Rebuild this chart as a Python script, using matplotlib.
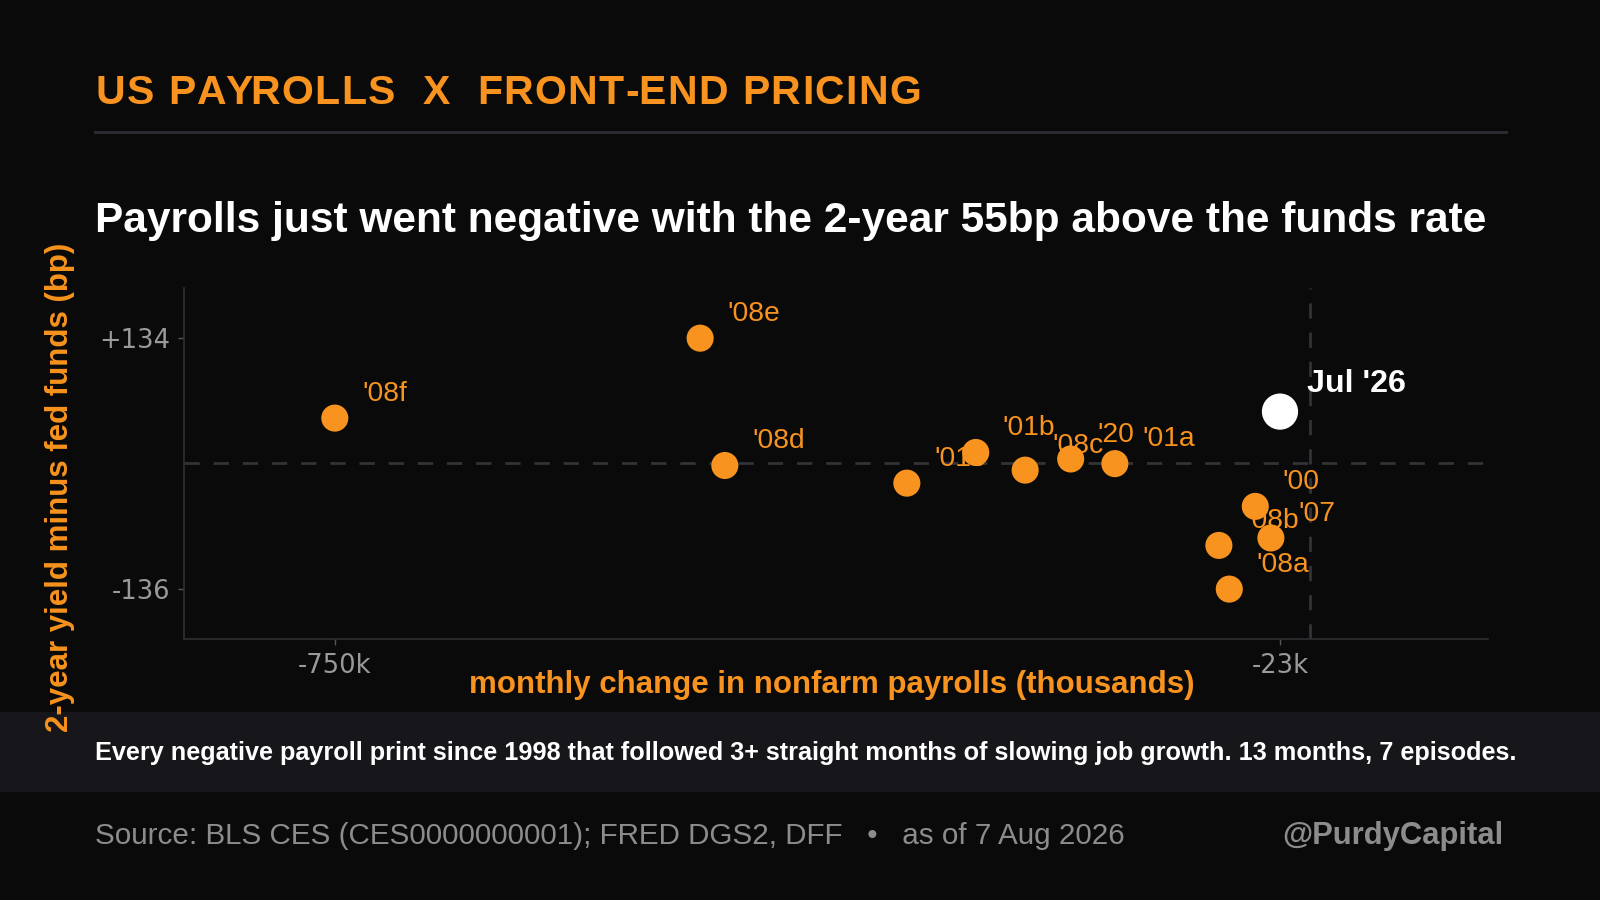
import matplotlib
matplotlib.use("Agg")
import matplotlib.pyplot as plt
from matplotlib.patches import Rectangle

BG = "#0a0a0a"
BAND = "#16161b"
ORANGE = "#F7931E"
GRID = "#333338"
TICK_GRAY = "#9a9a9a"
FOOT_GRAY = "#8c8c8c"

# historical negative prints (label, payroll change k, 2y - funds bp)
labels = ["'08f", "'08e", "'08d", "'01c", "'01b", "'08c", "'20", "'01a",
          "'00", "'07", "'08b", "'08a"]
payrolls = [-750, -469, -450, -310, -257, -219, -184, -150, -42, -30, -70, -62]
spread = [48, 134, -3, -22, 11, -8, 4, -1, -47, -81, -89, -136]

# latest print
latest_label = "Jul '26"
latest_payrolls = -23
latest_spread = 55

x_ticks = [-750, -23]
x_ticklabels = ["-750k", "-23k"]
y_ticks = [134, -136]
y_ticklabels = ["+134", "-136"]


def spaced_text(fig, x, y, s, spacing_px, **kw):
    # matplotlib has no letter-spacing, so place each glyph by hand
    renderer = fig.canvas.get_renderer()
    fig_w = fig.get_figwidth() * fig.dpi
    bar = fig.text(0, 0, "|", **kw)
    w_bar = bar.get_window_extent(renderer).width
    bar.remove()
    for i, ch in enumerate(s):
        if ch == " ":
            continue
        tmp = fig.text(0, 0, s[:i] + "|", **kw)
        w = tmp.get_window_extent(renderer).width - w_bar if i else 0
        tmp.remove()
        fig.text(x + (w + i * spacing_px) / fig_w, y, ch, **kw)


fig = plt.figure(figsize=(16, 9), dpi=100, facecolor=BG)

# caption band
fig.patches.append(Rectangle((0, 0.1197), 1, 0.0895, transform=fig.transFigure,
                             facecolor=BAND, edgecolor="none", zorder=0))

ax = fig.add_axes([0.115, 0.2897, 0.815, 0.3903])
ax.set_facecolor(BG)

ax.axhline(0, color=GRID, lw=2, dashes=(5.5, 5), zorder=1)
ax.axvline(0, color=GRID, lw=2, dashes=(5.5, 5), zorder=1)

ax.scatter(payrolls, spread, s=380, color=ORANGE, edgecolors="none", zorder=4)
for lab, x, y in zip(labels, payrolls, spread):
    ax.annotate(lab, (x, y), xytext=(19.5, 17.6), textcoords="offset points",
                ha="left", va="center", color=ORANGE, fontsize=20.3,
                family="Liberation Sans", zorder=3)

ax.scatter([latest_payrolls], [latest_spread], s=680, color="white",
           edgecolors="none", zorder=5)
ax.annotate(latest_label, (latest_payrolls, latest_spread), xytext=(19.5, 19.8),
            textcoords="offset points", ha="left", va="center", color="white",
            fontsize=23.2, fontweight="bold", family="Liberation Sans", zorder=5)

ax.set_xlim(-866, 137)
ax.set_ylim(-190, 188)
ax.set_xticks(x_ticks)
ax.set_xticklabels(x_ticklabels)
ax.set_yticks(y_ticks)
ax.set_yticklabels(y_ticklabels)
ax.tick_params(colors="#555555", labelcolor=TICK_GRAY, labelsize=18.5, length=4, width=1, pad=6)

for side in ["top", "right"]:
    ax.spines[side].set_visible(False)
for side in ["left", "bottom"]:
    ax.spines[side].set_color("#2e2e33")
    ax.spines[side].set_linewidth(1.2)

# header
spaced_text(fig, 0.0598, 0.8845, "US PAYROLLS  X  FRONT-END PRICING", 1.45,
            color=ORANGE, fontsize=29.5, fontweight="bold", family="Liberation Sans",
            va="baseline")
fig.add_artist(plt.Line2D([0.0595, 0.941], [0.8537, 0.8537], color="#2a2a30", lw=2.2))
fig.text(0.0595, 0.7426, "Payrolls just went negative with the 2-year 55bp above the funds rate",
         color="white", fontsize=30.5, fontweight="bold", family="Liberation Sans",
         va="baseline")

# axis titles
fig.text(0.0375, 0.4586, "2-year yield minus fed funds (bp)", color=ORANGE, fontsize=22.5,
         fontweight="bold", family="Liberation Sans", rotation=90, ha="center", va="center")
fig.text(0.5197, 0.2296, "monthly change in nonfarm payrolls (thousands)", color=ORANGE,
         fontsize=22.5, fontweight="bold", family="Liberation Sans", ha="center", va="baseline")

# caption and footer
fig.text(0.0595, 0.1555,
         "Every negative payroll print since 1998 that followed 3+ straight months of slowing job growth. 13 months, 7 episodes.",
         color="white", fontsize=18.2, fontweight="bold", family="Liberation Sans", va="baseline")
fig.text(0.0595, 0.0622, "Source: BLS CES (CES0000000001); FRED DGS2, DFF   \u2022   as of 7 Aug 2026",
         color=FOOT_GRAY, fontsize=21.3, family="Liberation Sans", va="baseline")
fig.text(0.9395, 0.0622, "@PurdyCapital", color=FOOT_GRAY, fontsize=22.3, fontweight="bold",
         family="Liberation Sans", ha="right", va="baseline")

fig.savefig("out.png", dpi=100, facecolor=BG)
